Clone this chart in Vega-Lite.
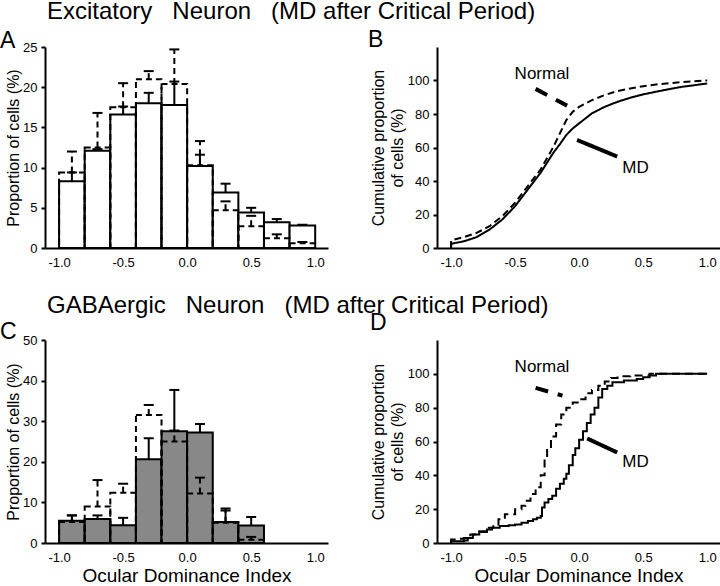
{
  "$schema": "https://vega.github.io/schema/vega-lite/v6.json",
  "padding": 0,
  "config": {
    "font": "Liberation Sans",
    "view": {"stroke": null},
    "axis": {"domainColor": "black", "domainWidth": 2, "tickColor": "black", "tickWidth": 2, "tickSize": 4, "labelColor": "black", "labelFontSize": 13, "titleColor": "black", "titleFontSize": 16, "titleFontWeight": "normal", "grid": false, "labelPadding": 4},
    "title": {"color": "black", "fontWeight": "normal"}
  },
  "datasets": {
    "histA": [
      {"lo": -1.0, "hi": -0.8, "mid": -0.9, "md": 8.3, "md_err": 9.4, "normal": 9.4, "normal_err": 12.0},
      {"lo": -0.8, "hi": -0.6, "mid": -0.7, "md": 12.1, "md_err": 12.3, "normal": 12.5, "normal_err": 16.8},
      {"lo": -0.6, "hi": -0.4, "mid": -0.5, "md": 16.6, "md_err": 17.6, "normal": 17.5, "normal_err": 20.5},
      {"lo": -0.4, "hi": -0.2, "mid": -0.3, "md": 18.0, "md_err": 19.3, "normal": 21.0, "normal_err": 22.0},
      {"lo": -0.2, "hi": 0.0, "mid": -0.1, "md": 17.8, "md_err": 20.7, "normal": 20.4, "normal_err": 24.7},
      {"lo": 0.0, "hi": 0.2, "mid": 0.1, "md": 10.2, "md_err": 11.6, "normal": 10.3, "normal_err": 13.3},
      {"lo": 0.2, "hi": 0.4, "mid": 0.3, "md": 6.9, "md_err": 8.0, "normal": 4.7, "normal_err": 5.8},
      {"lo": 0.4, "hi": 0.6, "mid": 0.5, "md": 4.4, "md_err": 5.0, "normal": 2.7, "normal_err": 4.0},
      {"lo": 0.6, "hi": 0.8, "mid": 0.7, "md": 3.2, "md_err": 3.6, "normal": 1.2, "normal_err": 1.7},
      {"lo": 0.8, "hi": 1.0, "mid": 0.9, "md": 2.8, "md_err": 2.9, "normal": 0.6, "normal_err": 0.75}
    ],
    "histC": [
      {"lo": -1.0, "hi": -0.8, "mid": -0.9, "md": 5.5, "md_err": 6.8, "normal": 5.2, "normal_err": 6.8},
      {"lo": -0.8, "hi": -0.6, "mid": -0.7, "md": 5.9, "md_err": 6.8, "normal": 9.0, "normal_err": 15.5},
      {"lo": -0.6, "hi": -0.4, "mid": -0.5, "md": 4.4, "md_err": 6.2, "normal": 12.4, "normal_err": 14.6},
      {"lo": -0.4, "hi": -0.2, "mid": -0.3, "md": 20.6, "md_err": 25.8, "normal": 31.5, "normal_err": 34.0},
      {"lo": -0.2, "hi": 0.0, "mid": -0.1, "md": 27.5, "md_err": 37.7, "normal": 25.0, "normal_err": 27.7},
      {"lo": 0.0, "hi": 0.2, "mid": 0.1, "md": 27.2, "md_err": 29.3, "normal": 12.2, "normal_err": 16.1},
      {"lo": 0.2, "hi": 0.4, "mid": 0.3, "md": 5.2, "md_err": 8.5, "normal": 5.0, "normal_err": 8.0},
      {"lo": 0.4, "hi": 0.6, "mid": 0.5, "md": 4.3, "md_err": 6.4, "normal": 0.8, "normal_err": 1.5}
    ],
    "cumB": [
      {"group": "MD", "x": -1.0, "y": 0},
      {"group": "MD", "x": -1.0, "y": 2.5},
      {"group": "MD", "x": -0.9, "y": 4},
      {"group": "MD", "x": -0.8, "y": 6.5},
      {"group": "MD", "x": -0.7, "y": 11},
      {"group": "MD", "x": -0.6, "y": 17},
      {"group": "MD", "x": -0.5, "y": 25},
      {"group": "MD", "x": -0.4, "y": 35},
      {"group": "MD", "x": -0.3, "y": 45},
      {"group": "MD", "x": -0.2, "y": 57},
      {"group": "MD", "x": -0.15, "y": 62},
      {"group": "MD", "x": -0.1, "y": 67.5},
      {"group": "MD", "x": -0.05, "y": 71.4},
      {"group": "MD", "x": 0.0, "y": 74.4},
      {"group": "MD", "x": 0.05, "y": 77.4},
      {"group": "MD", "x": 0.1, "y": 80.4},
      {"group": "MD", "x": 0.2, "y": 84.3},
      {"group": "MD", "x": 0.3, "y": 87.3},
      {"group": "MD", "x": 0.4, "y": 89.7},
      {"group": "MD", "x": 0.5, "y": 91.7},
      {"group": "MD", "x": 0.6, "y": 93.3},
      {"group": "MD", "x": 0.7, "y": 94.8},
      {"group": "MD", "x": 0.8, "y": 96.2},
      {"group": "MD", "x": 0.9, "y": 97.2},
      {"group": "MD", "x": 1.0, "y": 98.2},
      {"group": "Normal", "x": -1.0, "y": 0},
      {"group": "Normal", "x": -1.0, "y": 4.5},
      {"group": "Normal", "x": -0.9, "y": 6.5},
      {"group": "Normal", "x": -0.8, "y": 9},
      {"group": "Normal", "x": -0.7, "y": 13},
      {"group": "Normal", "x": -0.6, "y": 19},
      {"group": "Normal", "x": -0.5, "y": 27},
      {"group": "Normal", "x": -0.4, "y": 37},
      {"group": "Normal", "x": -0.3, "y": 47},
      {"group": "Normal", "x": -0.2, "y": 60.5},
      {"group": "Normal", "x": -0.15, "y": 68.5},
      {"group": "Normal", "x": -0.1, "y": 76.4},
      {"group": "Normal", "x": -0.05, "y": 81.3},
      {"group": "Normal", "x": 0.0, "y": 84.3},
      {"group": "Normal", "x": 0.05, "y": 86.3},
      {"group": "Normal", "x": 0.1, "y": 88.3},
      {"group": "Normal", "x": 0.2, "y": 91.3},
      {"group": "Normal", "x": 0.3, "y": 93.7},
      {"group": "Normal", "x": 0.4, "y": 95.2},
      {"group": "Normal", "x": 0.5, "y": 96.6},
      {"group": "Normal", "x": 0.6, "y": 97.6},
      {"group": "Normal", "x": 0.7, "y": 98.4},
      {"group": "Normal", "x": 0.8, "y": 99},
      {"group": "Normal", "x": 0.9, "y": 99.6},
      {"group": "Normal", "x": 1.0, "y": 100}
    ],
    "cumD": [
      {"group": "MD", "x": -1.0, "y": 0},
      {"group": "MD", "x": -1.0, "y": 1},
      {"group": "MD", "x": -0.9, "y": 1.5},
      {"group": "MD", "x": -0.87, "y": 3},
      {"group": "MD", "x": -0.83, "y": 5},
      {"group": "MD", "x": -0.78, "y": 6.5},
      {"group": "MD", "x": -0.72, "y": 8},
      {"group": "MD", "x": -0.68, "y": 9},
      {"group": "MD", "x": -0.62, "y": 10},
      {"group": "MD", "x": -0.55, "y": 10.5},
      {"group": "MD", "x": -0.5, "y": 11},
      {"group": "MD", "x": -0.45, "y": 12},
      {"group": "MD", "x": -0.4, "y": 13},
      {"group": "MD", "x": -0.36, "y": 14},
      {"group": "MD", "x": -0.33, "y": 15},
      {"group": "MD", "x": -0.3, "y": 16},
      {"group": "MD", "x": -0.29, "y": 21},
      {"group": "MD", "x": -0.27, "y": 24},
      {"group": "MD", "x": -0.24, "y": 26},
      {"group": "MD", "x": -0.21, "y": 28},
      {"group": "MD", "x": -0.18, "y": 32},
      {"group": "MD", "x": -0.15, "y": 35},
      {"group": "MD", "x": -0.12, "y": 38},
      {"group": "MD", "x": -0.1, "y": 41},
      {"group": "MD", "x": -0.08, "y": 46},
      {"group": "MD", "x": -0.05, "y": 52},
      {"group": "MD", "x": -0.03, "y": 56},
      {"group": "MD", "x": 0.0, "y": 61},
      {"group": "MD", "x": 0.03, "y": 66},
      {"group": "MD", "x": 0.06, "y": 71},
      {"group": "MD", "x": 0.09, "y": 76},
      {"group": "MD", "x": 0.12, "y": 80},
      {"group": "MD", "x": 0.15, "y": 86},
      {"group": "MD", "x": 0.18, "y": 91},
      {"group": "MD", "x": 0.22, "y": 93},
      {"group": "MD", "x": 0.26, "y": 95},
      {"group": "MD", "x": 0.35, "y": 96},
      {"group": "MD", "x": 0.45, "y": 97},
      {"group": "MD", "x": 0.5, "y": 98},
      {"group": "MD", "x": 0.55, "y": 99},
      {"group": "MD", "x": 0.6, "y": 100},
      {"group": "MD", "x": 1.0, "y": 100},
      {"group": "Normal", "x": -1.0, "y": 0},
      {"group": "Normal", "x": -1.0, "y": 2},
      {"group": "Normal", "x": -0.95, "y": 2.5},
      {"group": "Normal", "x": -0.9, "y": 3},
      {"group": "Normal", "x": -0.85, "y": 5},
      {"group": "Normal", "x": -0.8, "y": 7},
      {"group": "Normal", "x": -0.72, "y": 9},
      {"group": "Normal", "x": -0.67, "y": 11},
      {"group": "Normal", "x": -0.63, "y": 14},
      {"group": "Normal", "x": -0.58, "y": 17},
      {"group": "Normal", "x": -0.5, "y": 20},
      {"group": "Normal", "x": -0.45, "y": 22},
      {"group": "Normal", "x": -0.42, "y": 25},
      {"group": "Normal", "x": -0.38, "y": 29},
      {"group": "Normal", "x": -0.34, "y": 33},
      {"group": "Normal", "x": -0.3, "y": 40},
      {"group": "Normal", "x": -0.27, "y": 50},
      {"group": "Normal", "x": -0.25, "y": 56},
      {"group": "Normal", "x": -0.22, "y": 63},
      {"group": "Normal", "x": -0.18, "y": 70},
      {"group": "Normal", "x": -0.14, "y": 76},
      {"group": "Normal", "x": -0.1, "y": 80},
      {"group": "Normal", "x": -0.05, "y": 83},
      {"group": "Normal", "x": 0.0, "y": 85},
      {"group": "Normal", "x": 0.05, "y": 88.5},
      {"group": "Normal", "x": 0.1, "y": 90.5},
      {"group": "Normal", "x": 0.15, "y": 93},
      {"group": "Normal", "x": 0.2, "y": 95.5},
      {"group": "Normal", "x": 0.25, "y": 97.5},
      {"group": "Normal", "x": 0.3, "y": 98.5},
      {"group": "Normal", "x": 0.4, "y": 99},
      {"group": "Normal", "x": 0.55, "y": 100},
      {"group": "Normal", "x": 1.0, "y": 100}
    ],
    "annB": [
      {"label": "Normal", "x": -0.29, "y": 104, "x0": -0.34, "y0": 95, "x1": -0.094, "y1": 85},
      {"label": "MD", "x": 0.44, "y": 47.6, "x0": -0.016, "y0": 64.5, "x1": 0.297, "y1": 54.6}
    ],
    "annD": [
      {"label": "Normal", "x": -0.29, "y": 104, "x0": -0.34, "y0": 91.7, "x1": -0.13, "y1": 87.1},
      {"label": "MD", "x": 0.44, "y": 48, "x0": 0.0625, "y0": 61.8, "x1": 0.297, "y1": 53.5}
    ]
  },
  "spacing": 25,
  "vconcat": [
    {
      "title": {"text": "Excitatory\u00a0\u00a0 Neuron\u00a0\u00a0 (MD after Critical Period)", "anchor": "start", "frame": "bounds", "fontSize": 24, "dx": 47, "offset": -14, "baseline": "alphabetic"},
      "spacing": 109,
      "bounds": "flush",
      "hconcat": [
        {
          "width": 283, "height": 201,
          "title": {"text": "A", "anchor": "start", "frame": "group", "dx": -45, "fontSize": 23, "baseline": "alphabetic", "offset": -30},
          "data": {"name": "histA"},
          "layer": [
            {"mark": {"type": "rect", "fill": "white", "stroke": "black", "strokeWidth": 2},
             "encoding": {
               "x": {"field": "lo", "type": "quantitative", "scale": {"domain": [-1.11, 1.1], "nice": false, "zero": false},
                     "axis": {"values": [-1, -0.5, 0, 0.5, 1], "title": null, "ticks": false, "labelPadding": 8, "labelFlush": false, "labelExpr": "(datum.value < 0 ? '-' : '') + format(abs(datum.value), '.1f')"}},
               "x2": {"field": "hi"},
               "y": {"field": "md", "type": "quantitative", "scale": {"domain": [0, 25], "nice": false},
                     "axis": {"values": [0, 5, 10, 15, 20, 25], "title": "Proportion of cells (%)", "titlePadding": 1}},
               "y2": {"datum": 0}
             }},
            {"mark": {"type": "rect", "fill": null, "fillOpacity": 0, "stroke": "black", "strokeWidth": 2, "strokeDash": [6, 4]},
             "encoding": {"x": {"field": "lo", "type": "quantitative"}, "x2": {"field": "hi"}, "y": {"field": "normal", "type": "quantitative"}, "y2": {"datum": 0}}},
            {"mark": {"type": "rule", "color": "black", "strokeWidth": 2},
             "encoding": {"x": {"field": "mid", "type": "quantitative"}, "y": {"field": "md", "type": "quantitative"}, "y2": {"field": "md_err"}}},
            {"mark": {"type": "tick", "orient": "horizontal", "color": "black", "size": 10, "thickness": 2, "opacity": 1},
             "encoding": {"x": {"field": "mid", "type": "quantitative"}, "y": {"field": "md_err", "type": "quantitative"}}},
            {"mark": {"type": "rule", "color": "black", "strokeWidth": 2, "strokeDash": [6, 4]},
             "encoding": {"x": {"field": "mid", "type": "quantitative"}, "y": {"field": "normal", "type": "quantitative"}, "y2": {"field": "normal_err"}}},
            {"mark": {"type": "tick", "orient": "horizontal", "color": "black", "size": 10, "thickness": 2, "opacity": 1},
             "encoding": {"x": {"field": "mid", "type": "quantitative"}, "y": {"field": "normal_err", "type": "quantitative"}}}
          ]
        },
        {
          "width": 283, "height": 201,
          "title": {"text": "B", "anchor": "start", "frame": "group", "dx": -69, "fontSize": 23, "baseline": "alphabetic", "offset": -23},
          "layer": [
            {"data": {"name": "cumB"},
             "mark": {"type": "line", "color": "black", "strokeWidth": 2},
             "encoding": {
               "x": {"field": "x", "type": "quantitative", "scale": {"domain": [-1.11, 1.1], "nice": false, "zero": false},
                     "axis": {"values": [-1, -0.5, 0, 0.5, 1], "title": null, "ticks": false, "labelPadding": 8, "labelFlush": false, "labelExpr": "(datum.value < 0 ? '-' : '') + format(abs(datum.value), '.1f')"}},
               "y": {"field": "y", "type": "quantitative", "scale": {"domain": [0, 120], "nice": false},
                     "axis": {"values": [0, 20, 40, 60, 80, 100], "title": ["Cumulative proportion", "of cells (%)"], "titlePadding": 2, "titleLineHeight": 19}},
               "strokeDash": {"field": "group", "type": "nominal", "scale": {"domain": ["MD", "Normal"], "range": [[1, 0], [7, 4]]}, "legend": null},
               "order": {"field": "x", "type": "quantitative"}
             }},
            {"data": {"name": "annB"},
             "mark": {"type": "rule", "color": "black", "strokeWidth": 4},
             "encoding": {
               "x": {"field": "x0", "type": "quantitative"}, "y": {"field": "y0", "type": "quantitative"},
               "x2": {"field": "x1"}, "y2": {"field": "y1"},
               "strokeDash": {"field": "label", "type": "nominal", "scale": {"domain": ["MD", "Normal"], "range": [[1, 0], [13, 10]]}, "legend": null}
             }},
            {"data": {"name": "annB"},
             "mark": {"type": "text", "fontSize": 17, "color": "black", "align": "center", "baseline": "middle"},
             "encoding": {"x": {"field": "x", "type": "quantitative"}, "y": {"field": "y", "type": "quantitative"}, "text": {"field": "label"}}}
          ],
          "resolve": {"scale": {"strokeDash": "independent"}}
        }
      ]
    },
    {
      "title": {"text": "GABAergic\u00a0\u00a0 Neuron\u00a0\u00a0 (MD after Critical Period)", "anchor": "start", "frame": "bounds", "fontSize": 24, "dx": 47, "offset": -25, "baseline": "alphabetic"},
      "spacing": 109,
      "bounds": "flush",
      "hconcat": [
        {
          "width": 283, "height": 203,
          "title": {"text": "C", "anchor": "start", "frame": "group", "dx": -45, "fontSize": 23, "baseline": "alphabetic", "offset": -28},
          "data": {"name": "histC"},
          "layer": [
            {"mark": {"type": "rect", "fill": "#888888", "stroke": "black", "strokeWidth": 2},
             "encoding": {
               "x": {"field": "lo", "type": "quantitative", "scale": {"domain": [-1.11, 1.1], "nice": false, "zero": false},
                     "axis": {"values": [-1, -0.5, 0, 0.5, 1], "title": "Ocular Dominance Index", "titleFontSize": 19, "titlePadding": 2, "ticks": false, "labelPadding": 8, "labelFlush": false, "labelExpr": "(datum.value < 0 ? '-' : '') + format(abs(datum.value), '.1f')"}},
               "x2": {"field": "hi"},
               "y": {"field": "md", "type": "quantitative", "scale": {"domain": [0, 50], "nice": false},
                     "axis": {"values": [0, 10, 20, 30, 40, 50], "title": "Proportion of cells (%)", "titlePadding": 1}},
               "y2": {"datum": 0}
             }},
            {"mark": {"type": "rect", "fill": null, "fillOpacity": 0, "stroke": "black", "strokeWidth": 2, "strokeDash": [6, 4]},
             "encoding": {"x": {"field": "lo", "type": "quantitative"}, "x2": {"field": "hi"}, "y": {"field": "normal", "type": "quantitative"}, "y2": {"datum": 0}}},
            {"mark": {"type": "rule", "color": "black", "strokeWidth": 2},
             "encoding": {"x": {"field": "mid", "type": "quantitative"}, "y": {"field": "md", "type": "quantitative"}, "y2": {"field": "md_err"}}},
            {"mark": {"type": "tick", "orient": "horizontal", "color": "black", "size": 10, "thickness": 2, "opacity": 1},
             "encoding": {"x": {"field": "mid", "type": "quantitative"}, "y": {"field": "md_err", "type": "quantitative"}}},
            {"mark": {"type": "rule", "color": "black", "strokeWidth": 2, "strokeDash": [6, 4]},
             "encoding": {"x": {"field": "mid", "type": "quantitative"}, "y": {"field": "normal", "type": "quantitative"}, "y2": {"field": "normal_err"}}},
            {"mark": {"type": "tick", "orient": "horizontal", "color": "black", "size": 10, "thickness": 2, "opacity": 1},
             "encoding": {"x": {"field": "mid", "type": "quantitative"}, "y": {"field": "normal_err", "type": "quantitative"}}}
          ]
        },
        {
          "width": 283, "height": 203,
          "title": {"text": "D", "anchor": "start", "frame": "group", "dx": -67, "fontSize": 23, "baseline": "alphabetic", "offset": -13},
          "layer": [
            {"data": {"name": "cumD"},
             "mark": {"type": "line", "color": "black", "strokeWidth": 2, "interpolate": "step-after"},
             "encoding": {
               "x": {"field": "x", "type": "quantitative", "scale": {"domain": [-1.11, 1.1], "nice": false, "zero": false},
                     "axis": {"values": [-1, -0.5, 0, 0.5, 1], "title": "Ocular Dominance Index", "titleFontSize": 19, "titlePadding": 2, "ticks": false, "labelPadding": 8, "labelFlush": false, "labelExpr": "(datum.value < 0 ? '-' : '') + format(abs(datum.value), '.1f')"}},
               "y": {"field": "y", "type": "quantitative", "scale": {"domain": [0, 120], "nice": false},
                     "axis": {"values": [0, 20, 40, 60, 80, 100], "title": ["Cumulative proportion", "of cells (%)"], "titlePadding": 2, "titleLineHeight": 19}},
               "strokeDash": {"field": "group", "type": "nominal", "scale": {"domain": ["MD", "Normal"], "range": [[1, 0], [8, 5]]}, "legend": null},
               "order": {"field": "x", "type": "quantitative"}
             }},
            {"data": {"name": "annD"},
             "mark": {"type": "rule", "color": "black", "strokeWidth": 4},
             "encoding": {
               "x": {"field": "x0", "type": "quantitative"}, "y": {"field": "y0", "type": "quantitative"},
               "x2": {"field": "x1"}, "y2": {"field": "y1"},
               "strokeDash": {"field": "label", "type": "nominal", "scale": {"domain": ["MD", "Normal"], "range": [[1, 0], [13, 10]]}, "legend": null}
             }},
            {"data": {"name": "annD"},
             "mark": {"type": "text", "fontSize": 17, "color": "black", "align": "center", "baseline": "middle"},
             "encoding": {"x": {"field": "x", "type": "quantitative"}, "y": {"field": "y", "type": "quantitative"}, "text": {"field": "label"}}}
          ],
          "resolve": {"scale": {"strokeDash": "independent"}}
        }
      ]
    }
  ]
}
